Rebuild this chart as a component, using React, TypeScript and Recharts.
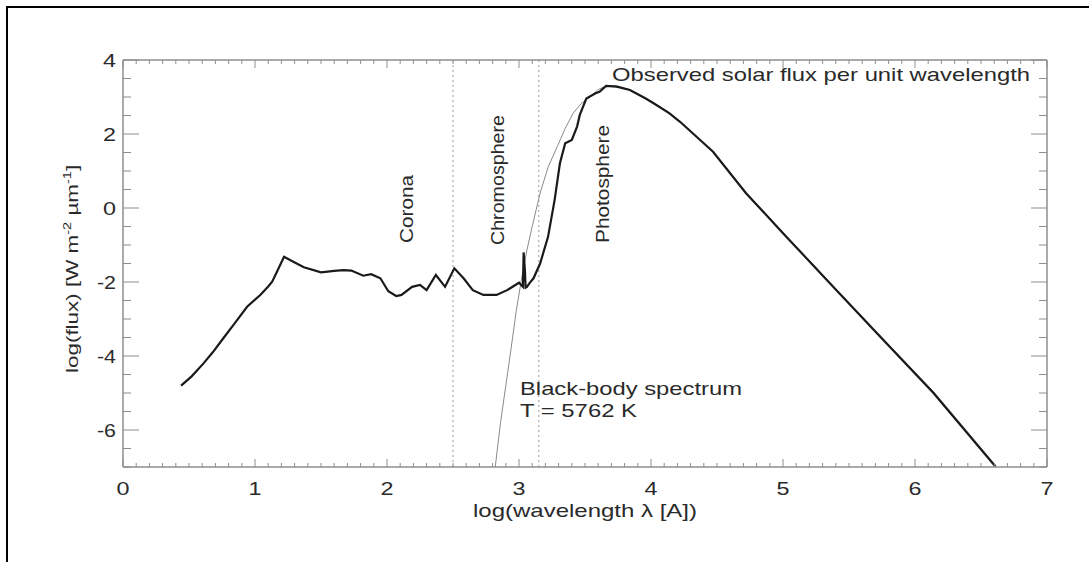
import { Line, LineChart, ReferenceLine, XAxis, YAxis } from 'recharts'

// log10(wavelength [A]) / log10(flux [W m^-2 um^-1])
const observedX = [
  0.44, 0.52, 0.61, 0.68, 0.76, 0.85, 0.94, 1.04, 1.1, 1.13, 1.16, 1.22, 1.29, 1.37, 1.5, 1.6,
  1.67, 1.73, 1.82, 1.88, 1.95, 2.01, 2.07, 2.11, 2.19, 2.25, 2.3, 2.37, 2.44, 2.51, 2.58, 2.65,
  2.73, 2.83, 2.91, 3.0, 3.03, 3.035, 3.045, 3.05, 3.06, 3.08, 3.11, 3.16, 3.22, 3.27, 3.31, 3.35,
  3.4, 3.44, 3.46, 3.51, 3.58, 3.61, 3.66, 3.74, 3.84, 3.96, 4.02, 4.14, 4.22, 4.47, 4.72, 5.0,
  5.38, 5.76, 6.14, 6.61,
]
const observedY = [
  -4.8, -4.55, -4.2, -3.9, -3.52, -3.1, -2.67, -2.35, -2.12, -1.99, -1.77, -1.32, -1.45, -1.6,
  -1.74, -1.7, -1.68, -1.69, -1.83, -1.79, -1.9, -2.25, -2.38, -2.35, -2.13, -2.08, -2.22, -1.81,
  -2.13, -1.63, -1.9, -2.22, -2.35, -2.35, -2.22, -2.02, -2.13, -1.2, -1.7, -2.15, -2.13, -2.03,
  -1.9, -1.5, -0.78, 0.22, 1.21, 1.75, 1.84, 2.2, 2.51, 2.96, 3.1, 3.14, 3.3, 3.28, 3.19, 2.96,
  2.83, 2.56, 2.33, 1.52, 0.4, -0.68, -2.13, -3.57, -5.0, -6.99,
]

const blackBodyX = [
  2.82, 2.86, 2.9, 2.94, 2.98, 3.02, 3.06, 3.1, 3.16, 3.22, 3.29, 3.35, 3.41, 3.47, 3.54, 3.6,
  3.66, 3.74, 3.84, 3.96, 4.14, 4.47, 4.72, 5.0, 5.38, 5.76, 6.14, 6.61,
]
const blackBodyY = [
  -7.0, -5.8, -4.8, -3.8, -2.76, -1.9, -1.14, -0.5, 0.4, 1.1, 1.66, 2.15, 2.56, 2.82, 3.01, 3.2,
  3.3, 3.3, 3.2, 2.97, 2.58, 1.53, 0.42, -0.66, -2.11, -3.54, -4.96, -6.95,
]

const regionBounds = [2.5, 3.15]

const xMajorTicks = [0, 1, 2, 3, 4, 5, 6, 7]
const yMajorTicks = [-6, -4, -2, 0, 2, 4]

const xTicks = Array.from({ length: 71 }, (_, i) => i / 10)
const yTicks = Array.from({ length: 23 }, (_, i) => -7 + i * 0.5)

const observed = observedX.map((x, i) => ({ x, y: observedY[i] }))
const blackBody = blackBodyX.map((x, i) => ({ x, y: blackBodyY[i] }))

const FONT = '"Liberation Sans", Arial, Helvetica, sans-serif'
const AXIS = '#8e8e8e'
const INK = '#2a2a2a'

const isMajorX = (v: number) => xMajorTicks.some((t) => Math.abs(t - v) < 1e-6)
const isMajorY = (v: number) => yMajorTicks.some((t) => Math.abs(t - v) < 1e-6)

// the figure's lettering is stretched sideways, so widths are forced
const labelWidth = (s: string) => (s.startsWith('-') ? 19 : 13 * s.length)

function BottomTick({ x, y, payload }: any) {
  const major = isMajorX(payload.value)
  const s = String(payload.value)
  return (
    <g>
      <line x1={x} x2={x} y1={y} y2={y - (major ? 8 : 4)} stroke={AXIS} strokeWidth={1} />
      {major && (
        <text
          x={x - labelWidth(s) / 2}
          y={y + 28}
          textLength={labelWidth(s)}
          lengthAdjust="spacingAndGlyphs"
          fontFamily={FONT}
          fontSize={18}
          fill={INK}
        >
          {s}
        </text>
      )}
    </g>
  )
}

function TopTick({ x, y, payload }: any) {
  const major = isMajorX(payload.value)
  return <line x1={x} x2={x} y1={y} y2={y + (major ? 8 : 4)} stroke={AXIS} strokeWidth={1} />
}

function LeftTick({ x, y, payload }: any) {
  const major = isMajorY(payload.value)
  const s = String(payload.value)
  return (
    <g>
      <line x1={x} x2={x + (major ? 16 : 8)} y1={y} y2={y} stroke={AXIS} strokeWidth={1} />
      {major && (
        <text
          x={x - 7 - labelWidth(s)}
          y={y + 6.5}
          textLength={labelWidth(s)}
          lengthAdjust="spacingAndGlyphs"
          fontFamily={FONT}
          fontSize={18}
          fill={INK}
        >
          {s}
        </text>
      )}
    </g>
  )
}

function RightTick({ x, y, payload }: any) {
  const major = isMajorY(payload.value)
  return <line x1={x} x2={x - (major ? 16 : 8)} y1={y} y2={y} stroke={AXIS} strokeWidth={1} />
}

function Annotations() {
  const txt = { fontFamily: FONT, fill: INK, lengthAdjust: 'spacingAndGlyphs' as const }
  return (
    <svg
      width={1089}
      height={562}
      style={{ position: 'absolute', left: -8, top: -8, pointerEvents: 'none' }}
    >
      <text x={612} y={81} fontSize={19} textLength={418} {...txt}>
        Observed solar flux per unit wavelength
      </text>
      <text x={520} y={395} fontSize={19} textLength={222} {...txt}>
        Black-body spectrum
      </text>
      <text x={520} y={417} fontSize={19} textLength={117} {...txt}>
        T = 5762 K
      </text>
      <text transform="translate(413,243) rotate(-90)" fontSize={18} textLength={68} {...txt}>
        Corona
      </text>
      <text transform="translate(504,245) rotate(-90)" fontSize={18} textLength={130} {...txt}>
        Chromosphere
      </text>
      <text transform="translate(609,243) rotate(-90)" fontSize={18} textLength={118} {...txt}>
        Photosphere
      </text>
      <text
        transform="translate(78,373) rotate(-90) scale(1.32,1)"
        fontSize={17}
        fontFamily={FONT}
        fill={INK}
      >
        log(flux) [W m
        <tspan fontSize={11} dy={-7}>
          -2
        </tspan>
        <tspan dy={7}> µm</tspan>
        <tspan fontSize={11} dy={-7}>
          -1
        </tspan>
        <tspan dy={7}>]</tspan>
      </text>
      <text x={473} y={517} fontSize={19} textLength={224} {...txt}>
        log(wavelength λ [A])
      </text>
    </svg>
  )
}

export default function App() {
  return (
    <div style={{ position: 'relative', width: 1081, height: 554 }}>
      <LineChart
        width={1081}
        height={554}
        margin={{ top: 42, right: 22, bottom: 55, left: 55 }}
      >
        <XAxis
          dataKey="x"
          type="number"
          domain={[0, 7]}
          ticks={xTicks}
          interval={0}
          allowDataOverflow
          height={40}
          tickSize={0}
          tickMargin={0}
          tickLine={false}
          axisLine={{ stroke: AXIS, strokeWidth: 1.5 }}
          tick={(p: any) => <BottomTick {...p} />}
        />
        <XAxis
          xAxisId="top"
          orientation="top"
          dataKey="x"
          type="number"
          domain={[0, 7]}
          ticks={xTicks}
          interval={0}
          allowDataOverflow
          height={10}
          tickSize={0}
          tickMargin={0}
          tickLine={false}
          axisLine={{ stroke: AXIS, strokeWidth: 1.5 }}
          tick={(p: any) => <TopTick {...p} />}
        />
        <YAxis
          type="number"
          domain={[-7, 4]}
          ticks={yTicks}
          interval={0}
          allowDataOverflow
          width={60}
          tickSize={0}
          tickMargin={0}
          tickLine={false}
          axisLine={{ stroke: AXIS, strokeWidth: 1.5 }}
          tick={(p: any) => <LeftTick {...p} />}
        />
        <YAxis
          yAxisId="right"
          orientation="right"
          type="number"
          domain={[-7, 4]}
          ticks={yTicks}
          interval={0}
          allowDataOverflow
          width={20}
          tickSize={0}
          tickMargin={0}
          tickLine={false}
          axisLine={{ stroke: AXIS, strokeWidth: 1.5 }}
          tick={(p: any) => <RightTick {...p} />}
        />
        {regionBounds.map((b) => (
          <ReferenceLine key={b} x={b} stroke="#9a9a9a" strokeWidth={1} strokeDasharray="2 3" />
        ))}
        <Line
          data={blackBody}
          dataKey="y"
          type="linear"
          stroke="#8a8a8a"
          strokeWidth={1}
          dot={false}
          isAnimationActive={false}
        />
        <Line
          data={observed}
          dataKey="y"
          type="linear"
          stroke="#1a1a1a"
          strokeWidth={2.2}
          dot={false}
          isAnimationActive={false}
        />
      </LineChart>
      <Annotations />
      <div
        style={{
          position: 'fixed',
          left: 6,
          top: 6,
          width: 1300,
          height: 800,
          borderLeft: '2px solid #000',
          borderTop: '2px solid #000',
          pointerEvents: 'none',
          zIndex: 10,
        }}
      />
    </div>
  )
}
